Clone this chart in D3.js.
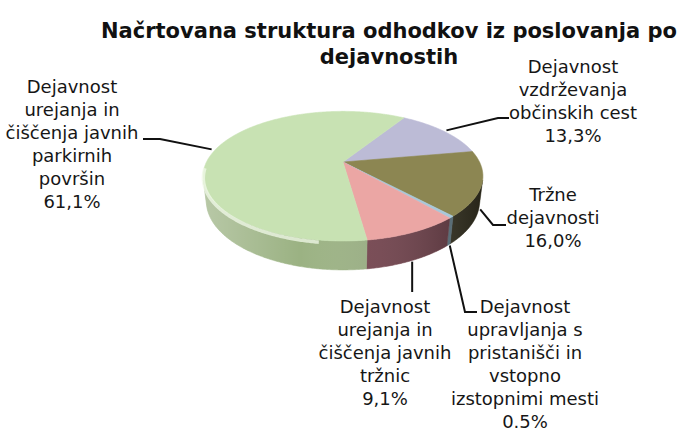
<!DOCTYPE html>
<html><head><meta charset="utf-8">
<script src="https://cdn.jsdelivr.net/npm/d3@7"></script>
<style>body{margin:0;background:#fff} svg{display:block}</style>
</head><body>
<svg id="chart" width="680" height="434"></svg>
<script>
// ---- data ----
const titleLines = ["Načrtovana struktura odhodkov iz poslovanja po", "dejavnostih"];
const categories = [
  "Dejavnost vzdrževanja občinskih cest",
  "Tržne dejavnosti",
  "Dejavnost upravljanja s pristanišči in vstopno izstopnimi mesti",
  "Dejavnost urejanja in čiščenja javnih tržnic",
  "Dejavnost urejanja in čiščenja javnih parkirnih površin"
];
const values = [13.3, 16.0, 0.5, 9.1, 61.1];
const valueLabels = ["13,3%", "16,0%", "0.5%", "9,1%", "61,1%"];
const labelLines = [
  ["Dejavnost", "vzdrževanja", "občinskih cest"],
  ["Tržne", "dejavnosti"],
  ["Dejavnost", "upravljanja s", "pristanišči in", "vstopno", "izstopnimi mesti"],
  ["Dejavnost", "urejanja in", "čiščenja javnih", "tržnic"],
  ["Dejavnost", "urejanja in", "čiščenja javnih", "parkirnih", "površin"]
];

// ---- styles / layout ----
const topColors  = ["#bcbbd6", "#8c8652", "#a8c8da", "#eba6a4", "#c8e2b3"];
const sideColors = ["#8f8ea8", "#3e3a26", "#6f8c9a", "#74404b", "#9bb283"];
const labelLayout = [
  {x: 573, y: 73,  elbow: [498, 118], end: [509, 118]},
  {x: 553, y: 201, elbow: [493, 225], end: [506, 225]},
  {x: 525, y: 313, elbow: [465, 312], end: [477, 312]},
  {x: 385, y: 313, elbow: null,        end: [null, 292]},
  {x: 72,  y: 93,  elbow: [160, 139], end: [143, 139]}
];
const lineH = 23;
const fontFamily = "'DejaVu Sans', Verdana, sans-serif";

const svg = d3.select("#chart");

// ---- perspective projection of the 3D pie ----
const cx = 343, cy = 162, f = 557, dist = 4.08, thick = 0.206;
const sphi = 0.452, cphi = Math.sqrt(1 - sphi * sphi);
function proj(theta, r, z) {
  const x = r * Math.sin(theta), y = r * Math.cos(theta);
  const depth = dist + y * cphi - z * sphi;
  const up = y * sphi + z * cphi;
  return [cx + f * x / depth, cy - f * up / depth];
}
const deg = Math.PI / 180;
const start = 32 * deg;
const pie = d3.pie().sort(null).value(d => d).startAngle(start).endAngle(start + 2 * Math.PI);
const arcs = pie(values);
const line = d3.line();

function arcPts(a0, a1, z) {
  const n = Math.max(2, Math.ceil(Math.abs(a1 - a0) / (0.5 * deg)));
  return d3.range(n + 1).map(i => proj(a0 + (a1 - a0) * i / n, 1, z));
}

// visible part of outer wall: cos(theta) < -1/(dist*cos(phi))
const visHalf = Math.acos(-1 / (dist * cphi));
const vis0 = visHalf, vis1 = 2 * Math.PI - visHalf;

const defs = svg.append("defs");
const g1 = defs.append("linearGradient").attr("id", "sideShade")
  .attr("gradientUnits", "userSpaceOnUse").attr("x1", 200).attr("x2", 485).attr("y1", 0).attr("y2", 0);
g1.append("stop").attr("offset", 0).attr("stop-color", "#fff").attr("stop-opacity", 0.3);
g1.append("stop").attr("offset", 0.35).attr("stop-color", "#fff").attr("stop-opacity", 0.0);
g1.append("stop").attr("offset", 1).attr("stop-color", "#000").attr("stop-opacity", 0.4);

const gPie = svg.append("g");

// side walls
arcs.forEach((a, i) => {
  for (const shift of [0, 2 * Math.PI, -2 * Math.PI]) {
    const s0 = Math.max(a.startAngle - shift, vis0), s1 = Math.min(a.endAngle - shift, vis1);
    if (s1 > s0) {
      const pts = arcPts(s0, s1, 0).concat(arcPts(s1, s0, -thick));
      gPie.append("path").attr("d", line(pts) + "Z").attr("fill", sideColors[i]).attr("stroke", sideColors[i]).attr("stroke-width", 0.5);
    }
  }
});
// shading overlay on side
gPie.append("path")
  .attr("d", line(arcPts(vis0, vis1, 0).concat(arcPts(vis1, vis0, -thick))) + "Z")
  .attr("fill", "url(#sideShade)");

// top faces
arcs.forEach((a, i) => {
  const pts = [proj(0, 0, 0)].concat(arcPts(a.startAngle, a.endAngle, 0));
  gPie.append("path").attr("d", line(pts) + "Z").attr("fill", topColors[i]).attr("stroke", topColors[i]).attr("stroke-width", 0.6);
});
// light rim on front-left edge
gPie.append("path").attr("d", line(arcPts(188 * deg, 266 * deg, -0.015)))
  .attr("fill", "none").attr("stroke", "#f2f9ea").attr("stroke-width", 3.5).attr("stroke-opacity", 0.75);

// ---- leader lines ----
arcs.forEach((a, i) => {
  const mid = (a.startAngle + a.endAngle) / 2;
  const front = Math.cos(mid) < 0;
  const p0 = proj(mid, front ? 1.01 : 1.03, front ? -thick : 0);
  const L = labelLayout[i];
  const pts = [p0];
  if (L.elbow) pts.push(L.elbow);
  pts.push([L.end[0] == null ? p0[0] : L.end[0], L.end[1]]);
  svg.append("path").attr("d", line(pts)).attr("fill", "none").attr("stroke", "#111").attr("stroke-width", 2);
});

// ---- labels ----
arcs.forEach((a, i) => {
  const L = labelLayout[i];
  const t = svg.append("text").attr("x", L.x).attr("y", L.y)
    .attr("text-anchor", "middle").attr("font-family", fontFamily).attr("font-size", 18).attr("fill", "#161616");
  labelLines[i].concat([valueLabels[i]]).forEach((s, k) => {
    t.append("tspan").attr("x", L.x).attr("y", L.y + k * lineH).text(s);
  });
});

// ---- title ----
const title = svg.append("text").attr("text-anchor", "middle").attr("font-family", fontFamily)
  .attr("font-weight", "bold").attr("font-size", 21).attr("fill", "#111");
titleLines.forEach((s, k) => title.append("tspan").attr("x", 389).attr("y", 38 + k * 26).text(s));
</script>
</body></html>
